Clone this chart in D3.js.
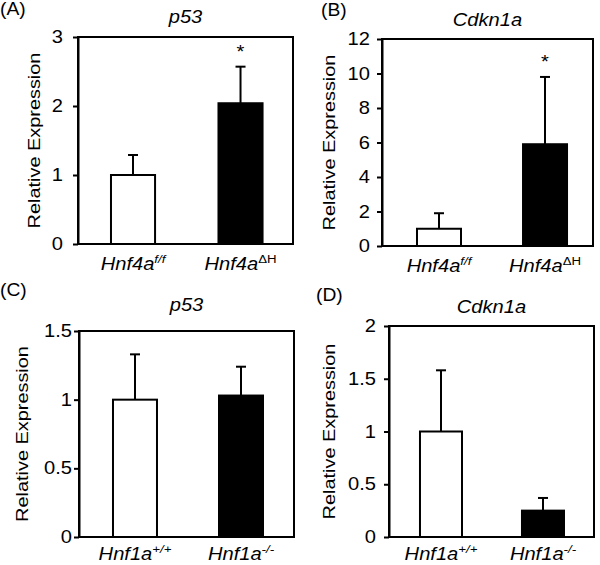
<!DOCTYPE html>
<html>
<head>
<meta charset="utf-8">
<script src="https://cdn.jsdelivr.net/npm/d3@7"></script>
<style>
  html, body { margin: 0; padding: 0; background: #fff; }
  svg { display: block; font-family: "Liberation Sans", Arial, Helvetica, sans-serif; }
</style>
</head>
<body>
<svg id="chart" width="600" height="565"></svg>
<script>
// ---- data ----
const panelLetters = ["(A)", "(B)", "(C)", "(D)"];
const genes = ["p53", "Cdkn1a", "p53", "Cdkn1a"];
const labelBases = [["Hnf4a", "Hnf4a"], ["Hnf4a", "Hnf4a"], ["Hnf1a", "Hnf1a"], ["Hnf1a", "Hnf1a"]];
const labelSups = [["f/f", "ΔH"], ["f/f", "ΔH"], ["+/+", "-/-"], ["+/+", "-/-"]];
const supItalic = [[true, false], [true, false], [true, true], [true, true]];
const means = [[1.0, 2.04], [1.0, 5.9], [1.0, 1.03], [1.0, 0.25]];
const errors = [[0.29, 0.53], [0.9, 3.9], [0.33, 0.21], [0.58, 0.12]];
const significant = [[false, true], [false, true], [false, false], [false, false]];
const yMax = [3, 12, 1.5, 2];
const yTicks = [[0, 1, 2, 3], [0, 2, 4, 6, 8, 10, 12], [0, 0.5, 1, 1.5], [0, 0.5, 1, 1.5, 2]];
const barFills = ["#ffffff", "#000000"];
const yTitle = "Relative Expression";

// ---- layout (positions / styles only) ----
const layout = [
  { left: 78, right: 293, top: 37, bottom: 244, pi: 0.59, po: 0.295, align: 0.52,
    titleY: 23, letterX: 0, letterY: 15, yTitleX: 40, tickOff: 15, labelY: 270 },
  { left: 382, right: 593, top: 39, bottom: 246, pi: 0.585, po: 0.2875, align: 0.574,
    titleY: 26, letterX: 321, letterY: 16, yTitleX: 335, tickOff: 12, labelY: 272 },
  { left: 79, right: 294, top: 331, bottom: 537, pi: 0.585, po: 0.3065, align: 0.523,
    titleY: 311, letterX: 0, letterY: 296, yTitleX: 28, tickOff: 7, labelY: 560 },
  { left: 389, right: 594, top: 326, bottom: 537, pi: 0.588, po: 0.299, align: 0.508,
    titleY: 313, letterX: 316, letterY: 301, yTitleX: 335, tickOff: 13, labelY: 560 }
];
const SX = 1.15;      // horizontal stretch of the reference typeface
const FONT = 17.5;

const svg = d3.select("#chart");

function stext(parent, x, y, str, opt = {}) {
  const t = parent.append("text")
    .attr("transform", `translate(${x},${y})${opt.rotate ? " rotate(-90)" : ""} scale(${opt.sx || SX},1)`)
    .attr("font-size", opt.size || FONT)
    .attr("text-anchor", opt.anchor || "start")
    .attr("fill", "#000");
  if (opt.italic) t.attr("font-style", "italic");
  if (str !== null) t.text(str);
  return t;
}

layout.forEach((L, i) => {
  const g = svg.append("g");
  const cats = [0, 1];
  const x = d3.scaleBand().domain(cats).range([L.left, L.right])
    .paddingInner(L.pi).paddingOuter(L.po).align(L.align);
  const y = d3.scaleLinear().domain([0, yMax[i]]).range([L.bottom, L.top]);

  // bars
  g.selectAll("rect.bar").data(cats).enter().append("rect")
    .attr("class", "bar")
    .attr("x", c => x(c))
    .attr("width", x.bandwidth())
    .attr("y", c => y(means[i][c]))
    .attr("height", c => y(0) - y(means[i][c]))
    .attr("fill", c => barFills[c])
    .attr("stroke", "#000")
    .attr("stroke-width", 2);

  // error bars (upper only) and significance stars
  cats.forEach(c => {
    const cx = x(c) + x.bandwidth() / 2;
    const top = y(means[i][c] + errors[i][c]);
    g.append("line").attr("x1", cx).attr("x2", cx)
      .attr("y1", y(means[i][c])).attr("y2", top)
      .attr("stroke", "#000").attr("stroke-width", 2);
    g.append("line").attr("x1", cx - 5).attr("x2", cx + 5)
      .attr("y1", top).attr("y2", top)
      .attr("stroke", "#000").attr("stroke-width", 2);
    if (significant[i][c]) {
      stext(g, cx, top - 9, "*", { anchor: "middle" });
    }
  });

  // frame
  g.append("rect").attr("x", L.left).attr("y", L.top)
    .attr("width", L.right - L.left).attr("height", L.bottom - L.top)
    .attr("fill", "none").attr("stroke", "#000").attr("stroke-width", 2);

  // y axis
  const ax = g.append("g").attr("transform", `translate(${L.left},0)`)
    .call(d3.axisLeft(y).tickValues(yTicks[i]).tickFormat(d => String(d))
      .tickSizeInner(5).tickSizeOuter(0).tickPadding(10));
  ax.select(".domain").attr("stroke", "#000").attr("stroke-width", 2);
  ax.selectAll(".tick line").attr("stroke", "#000").attr("stroke-width", 2);
  ax.selectAll(".tick text")
    .attr("x", 0)
    .attr("transform", `translate(${-L.tickOff},0) scale(${SX},1)`)
    .attr("font-size", FONT).attr("fill", "#000")
    .attr("font-family", "Liberation Sans, Arial, sans-serif");

  // y title
  stext(g, L.yTitleX, (L.top + L.bottom) / 2, yTitle, { rotate: true, anchor: "middle", size: 17, sx: 1.17 });

  // gene title
  stext(g, (L.left + L.right) / 2, L.titleY, genes[i], { anchor: "middle", italic: true });

  // panel letter
  stext(g, L.letterX, L.letterY, panelLetters[i], { sx: 1.1 });

  // x labels
  cats.forEach(c => {
    const cx = x(c) + x.bandwidth() / 2;
    const t = stext(g, cx, L.labelY, null, { anchor: "middle" });
    t.append("tspan").attr("font-style", "italic").text(labelBases[i][c]);
    t.append("tspan").attr("font-size", 11.5).attr("dy", -7)
      .attr("font-style", supItalic[i][c] ? "italic" : "normal")
      .text(labelSups[i][c]);
  });
});
</script>
</body>
</html>
